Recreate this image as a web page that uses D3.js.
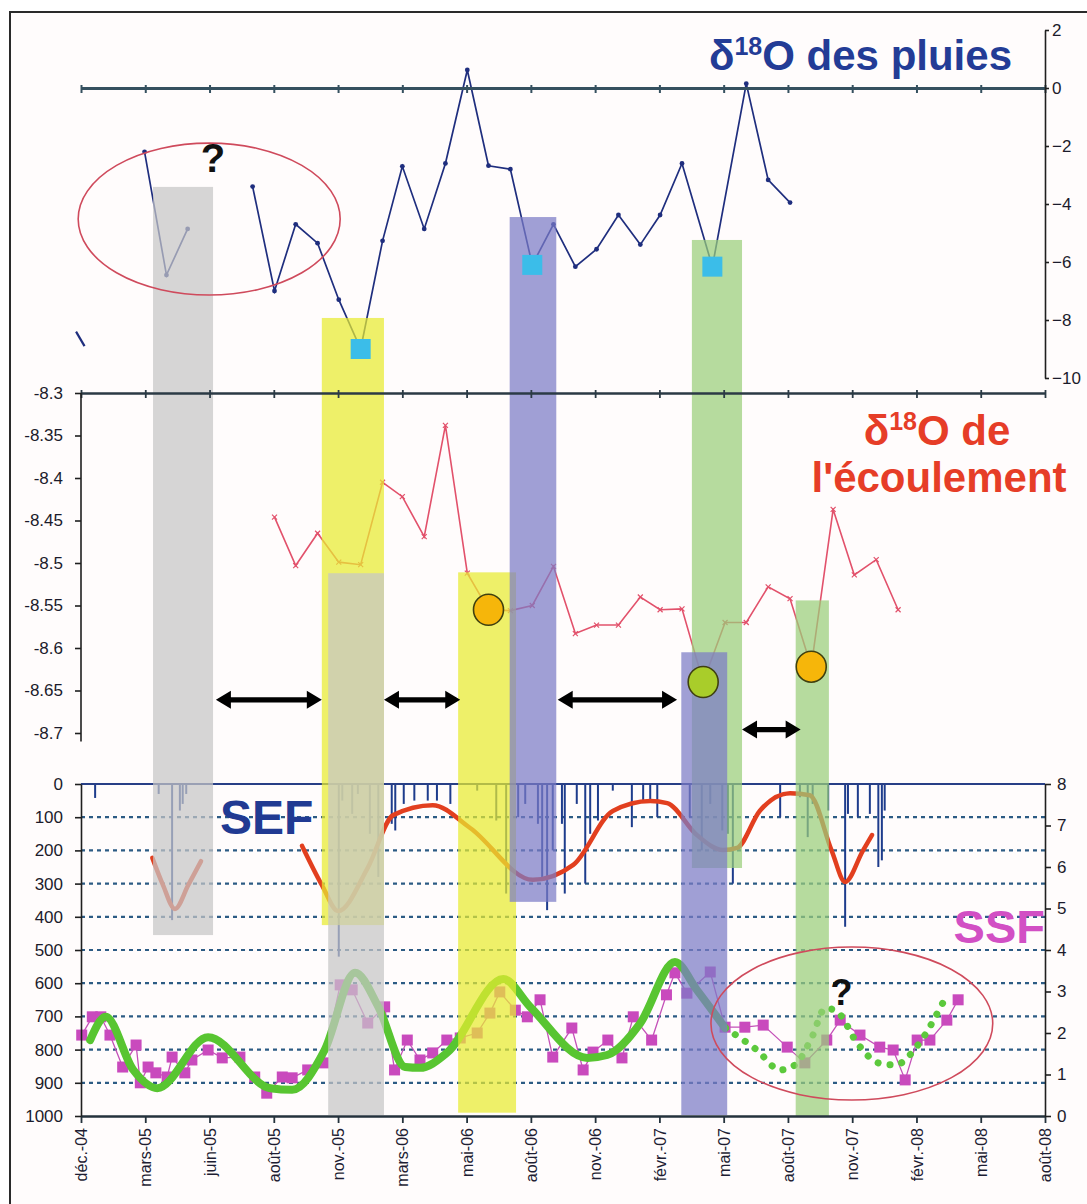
<!DOCTYPE html>
<html><head><meta charset="utf-8">
<script src="https://cdn.jsdelivr.net/npm/d3@7"></script>
<style>
body{margin:0;background:#fff}
svg{display:block}
text{font-family:"Liberation Sans",Arial,Helvetica,sans-serif}
</style>
</head><body>
<svg id="c" width="1087" height="1204"></svg>
<script>
// ---------------- DATA ----------------
const seriesStart = "2004-12-01";
const xTickDates = ["2004-12-01","2005-03-02","2005-06-01","2005-08-31","2005-11-30","2006-03-01","2006-05-31","2006-08-30","2006-11-29","2007-02-28","2007-05-30","2007-08-29","2007-11-28","2008-02-27","2008-05-28","2008-08-27"];
const xTickLabels = ["déc.-04","mars-05","juin-05","août-05","nov.-05","mars-06","mai-06","août-06","nov.-06","févr.-07","mai-07","août-07","nov.-07","févr.-08","mai-08","août-08"];

const rainTicks = [2,0,-2,-4,-6,-8,-10];
const flowTicks = [-8.3,-8.35,-8.4,-8.45,-8.5,-8.55,-8.6,-8.65,-8.7];
const flowTickLabels = ["-8.3","-8.35","-8.4","-8.45","-8.5","-8.55","-8.6","-8.65","-8.7"];
const mmTicks = [0,100,200,300,400,500,600,700,800,900,1000];
const rightTicks = [0,1,2,3,4,5,6,7,8];

// δ18O des pluies (monthly)
const rainDates = ["2005-03-01","2005-04-01","2005-05-01","2005-06-01","2005-07-01","2005-08-01","2005-09-01","2005-10-01","2005-11-01","2005-12-01","2006-01-01","2006-02-01","2006-03-01","2006-04-01","2006-05-01","2006-06-01","2006-07-01","2006-08-01","2006-09-01","2006-10-01","2006-11-01","2006-12-01","2007-01-01","2007-02-01","2007-03-01","2007-04-01","2007-05-14","2007-07-01","2007-08-01","2007-09-01"];
const rainValues = [-2.2,-6.45,-4.86,null,null,-3.4,-7.0,-4.7,-5.35,-7.3,-9.0,-5.27,-2.7,-4.86,-2.6,0.62,-2.68,-2.8,-6.1,-4.7,-6.16,-5.56,-4.38,-5.4,-4.38,-2.6,-6.16,0.15,-3.17,-3.95];
const rainStubDates = ["2004-11-24","2004-12-06"];
const rainStubValues = [-8.4,-8.9];
const rainHighlightDates = ["2006-01-01","2006-09-01","2007-05-14"];

// δ18O de l'écoulement (monthly)
const flowDates = ["2005-09-01","2005-10-01","2005-11-01","2005-12-01","2006-01-01","2006-02-01","2006-03-01","2006-04-01","2006-05-01","2006-06-01","2006-07-01","2006-08-01","2006-09-01","2006-10-01","2006-11-01","2006-12-01","2007-01-01","2007-02-01","2007-03-01","2007-04-01","2007-05-01","2007-06-01","2007-07-01","2007-08-01","2007-09-01","2007-10-01","2007-11-01","2007-12-01","2008-01-01","2008-02-01"];
const flowValues = [-8.446,-8.503,-8.465,-8.499,-8.502,-8.405,-8.422,-8.469,-8.338,-8.512,-8.555,-8.556,-8.55,-8.504,-8.583,-8.573,-8.573,-8.54,-8.555,-8.554,-8.64,-8.57,-8.57,-8.528,-8.542,-8.622,-8.437,-8.514,-8.496,-8.555];
const flowHighlightDates = ["2006-07-01","2007-05-01","2007-10-01"];
const flowHighlightKind = ["orange","green","orange"];

// daily rainfall bars (mm, days since seriesStart)
const barDays = [20,110,129,140,144,149,365,370,384,392,409,421,440,445,457,472,491,504,523,561,588,602,619,629,647,653,660,668,681,685,702,714,721,732,753,780,796,806,816,862,879,891,908,916,923,990,1018,1029,1036,1058,1082,1086,1100,1117,1129,1134,1138];
const barMm =   [42,30,410,80,60,30,520,50,90,30,150,280,120,140,60,50,50,50,60,20,110,330,100,60,120,280,380,200,120,330,60,300,150,110,20,130,50,50,100,100,200,60,140,150,300,100,40,160,60,80,430,90,100,90,250,230,80];

// SEF smoothed curve (right axis units, days since seriesStart)
const sef1Days = [101,116,133,152,170];
const sef1Values = [6.22,5.57,4.99,5.57,6.14];
const sef2Days = [313,341,364,406,442,498,551,640,697,753,806,830,872,909,929,961,1004,1032,1063,1082,1107,1120];
const sef2Values = [6.51,5.57,4.94,5.98,7.25,7.49,6.94,5.69,6.05,7.35,7.59,7.54,6.77,6.41,6.46,7.35,7.78,7.73,6.39,5.64,6.39,6.77];

// SSF smoothed curve (solid then dotted)
const ssfFitDays = [13,35,74,108,180,268,299,345,388,421,459,480,518,598,636,717,745,792,841,872,912];
const ssfFitValues = [1.83,2.39,1.11,0.67,1.90,0.67,0.63,1.59,3.45,2.63,1.18,1.16,1.52,3.30,2.63,1.40,1.47,2.24,3.71,3.04,2.12];
const ssfDotDays = [912,957,990,1011,1035,1054,1071,1099,1129,1153,1185,1221];
const ssfDotValues = [2.12,1.59,1.11,1.23,1.90,2.60,2.51,1.76,1.28,1.23,1.71,2.75];

// SSF measured points
const ssfDays = [1,16,28,41,59,78,84,95,106,122,129,147,157,180,200,225,246,263,285,299,321,343,367,384,406,430,444,462,480,498,518,537,561,579,593,615,632,650,668,695,711,725,746,766,782,808,829,841,858,891,912,940,966,1000,1025,1056,1075,1103,1131,1150,1167,1184,1202,1226,1242];
const ssfValues = [1.95,2.39,2.39,1.95,1.18,1.71,0.80,1.18,1.04,0.94,1.42,1.04,1.35,1.59,1.40,1.42,0.94,0.55,0.94,0.92,1.11,1.28,3.16,3.04,2.24,2.63,1.11,1.83,1.35,1.52,1.83,1.88,2.00,2.48,2.99,2.55,2.39,2.80,1.42,2.12,1.11,1.54,1.83,1.40,2.39,1.83,2.92,3.45,2.96,3.47,2.14,2.14,2.19,1.66,1.28,1.83,2.31,1.95,1.66,1.59,0.87,1.83,1.83,2.31,2.80];

// highlighted periods (date extents, top/bottom in panel units)
const bandStart = ["2005-03-13","2005-11-07","2005-11-16","2006-05-19","2006-07-31","2007-04-15","2007-03-31","2007-09-09"];
const bandEnd   = ["2005-06-06","2006-02-03","2006-02-03","2006-08-09","2006-10-05","2007-06-25","2007-06-04","2007-10-26"];
const bandTopScale = ["rain","rain","flow","flow","rain","rain","flow","flow"];
const bandTopValue = [-3.41,-7.93,-8.512,-8.511,-4.45,-5.24,-8.605,-8.544];
const bandBottomMm = [455,425,997,990,355,253,997,1000];
const bandKind = ["gray","yellow","gray","yellow","purple","green","purple","green"];

// double arrows (dates, flow units)
const arrowStart = ["2005-06-10","2006-02-03","2006-10-07","2007-06-25"];
const arrowEnd   = ["2005-11-07","2006-05-22","2007-03-25","2007-09-16"];
const arrowLevel = [-8.661,-8.661,-8.661,-8.696];

// ---------------- SETUP ----------------
const parse = d3.utcParse("%Y-%m-%d");
const t0 = parse(seriesStart);
const dayToDate = d => d3.utcDay.offset(t0, d);

const svg = d3.select("#c");
const W = 1087, H = 1204;

const x = d3.scaleUtc().domain([parse(xTickDates[0]), parse(xTickDates[xTickDates.length-1])]).range([81, 1045]);
const yRain = d3.scaleLinear().domain([-10, 2]).range([378, 30]);
const yFlow = d3.scaleLinear().domain([-8.7, -8.3]).range([733, 393]);
const yMm = d3.scaleLinear().domain([0, 1000]).range([784, 1116]);
const yR = d3.scaleLinear().domain([0, 8]).range([1116, 784]);
const scaleByName = {rain: yRain, flow: yFlow, mm: yMm};

const bandFill = {gray:"#c6c6c6", yellow:"#e8eb30", purple:"#7c7cc6", green:"#9acf7a"};

// background frame
svg.append("rect").attr("x",0).attr("y",0).attr("width",W).attr("height",H).attr("fill","#fff");
svg.append("rect").attr("x",10).attr("y",12).attr("width",W+20).attr("height",H+20)
  .attr("fill","#fffcfc").attr("stroke","#2a2a2a").attr("stroke-width",2);

const tickDateObjs = xTickDates.map(parse);

// ---------- bottom panel grid ----------
const grid = svg.append("g");
grid.selectAll("line").data(mmTicks.filter(v => v > 0 && v < 1000)).join("line")
  .attr("x1", x.range()[0]).attr("x2", x.range()[1])
  .attr("y1", d => yMm(d)).attr("y2", d => yMm(d))
  .attr("stroke","#2c5b84").attr("stroke-width",2.2).attr("stroke-dasharray","4,4");

// ---------- rain bars ----------
const bars = barDays.map((d,i) => ({t: dayToDate(d), v: barMm[i]}));
svg.append("g").selectAll("line").data(bars).join("line")
  .attr("x1", d => x(d.t)).attr("x2", d => x(d.t))
  .attr("y1", yMm(0)).attr("y2", d => yMm(d.v))
  .attr("stroke","#1e3c8c").attr("stroke-width",2);

// top line of bottom panel
svg.append("line").attr("x1",81).attr("x2",1045).attr("y1",yMm(0)).attr("y2",yMm(0))
  .attr("stroke","#283f86").attr("stroke-width",2.2);

// ---------- SEF curve ----------
const lineR = d3.line().x(d => x(d.t)).y(d => yR(d.v)).curve(d3.curveMonotoneX);
const sef1 = sef1Days.map((d,i) => ({t: dayToDate(d), v: sef1Values[i]}));
const sef2 = sef2Days.map((d,i) => ({t: dayToDate(d), v: sef2Values[i]}));
[sef1, sef2].forEach(s => svg.append("path").attr("d", lineR(s))
  .attr("fill","none").attr("stroke","#e23f1f").attr("stroke-width",4.5).attr("stroke-linecap","round"));

// ---------- SSF measured ----------
const ssf = ssfDays.map((d,i) => ({t: dayToDate(d), v: ssfValues[i]}));
svg.append("path").attr("d", d3.line().x(d => x(d.t)).y(d => yR(d.v))(ssf))
  .attr("fill","none").attr("stroke","#c451b8").attr("stroke-width",1.3);
svg.append("g").selectAll("rect").data(ssf).join("rect")
  .attr("x", d => x(d.t) - 5.5).attr("y", d => yR(d.v) - 5.5)
  .attr("width",11).attr("height",11).attr("fill","#c94abd");

// ---------- SSF fitted ----------
const ssfFit = ssfFitDays.map((d,i) => ({t: dayToDate(d), v: ssfFitValues[i]}));
const ssfDot = ssfDotDays.map((d,i) => ({t: dayToDate(d), v: ssfDotValues[i]}));
svg.append("path").attr("d", lineR(ssfFit)).attr("fill","none")
  .attr("stroke","#58c531").attr("stroke-width",8).attr("stroke-linecap","round");
svg.append("path").attr("d", lineR(ssfDot)).attr("fill","none")
  .attr("stroke","#5cc93c").attr("stroke-width",7).attr("stroke-linecap","round")
  .attr("stroke-dasharray","0.1,12");

// ---------- rain isotope line ----------
const rain = rainDates.map((d,i) => ({t: parse(d), v: rainValues[i]}));
const lineRain = d3.line().defined(d => d.v != null).x(d => x(d.t)).y(d => yRain(d.v));
svg.append("path").attr("d", lineRain(rain)).attr("fill","none")
  .attr("stroke","#1f2e7e").attr("stroke-width",1.7);
svg.append("g").selectAll("circle").data(rain.filter(d => d.v != null)).join("circle")
  .attr("cx", d => x(d.t)).attr("cy", d => yRain(d.v)).attr("r",2.4).attr("fill","#1f2e7e");
const stub = rainStubDates.map((d,i) => ({t: parse(d), v: rainStubValues[i]}));
svg.append("path").attr("d", lineRain(stub)).attr("stroke","#1f2e7e").attr("stroke-width",2.2).attr("fill","none");

// ---------- flow isotope line ----------
const flow = flowDates.map((d,i) => ({t: parse(d), v: flowValues[i]}));
svg.append("path").attr("d", d3.line().x(d => x(d.t)).y(d => yFlow(d.v))(flow))
  .attr("fill","none").attr("stroke","#e2516b").attr("stroke-width",1.6);
svg.append("g").selectAll("path").data(flow).join("path")
  .attr("d", d => `M${x(d.t)-2.5},${yFlow(d.v)-2.5}L${x(d.t)+2.5},${yFlow(d.v)+2.5}M${x(d.t)-2.5},${yFlow(d.v)+2.5}L${x(d.t)+2.5},${yFlow(d.v)-2.5}`)
  .attr("stroke","#e2516b").attr("stroke-width",1.2);

// ---------- bands (translucent overlays) ----------
const bands = bandStart.map((s,i) => ({
  x0: parse(s), x1: parse(bandEnd[i]),
  y0: scaleByName[bandTopScale[i]](bandTopValue[i]), y1: yMm(bandBottomMm[i]), kind: bandKind[i]
}));
svg.append("g").selectAll("rect").data(bands).join("rect")
  .attr("x", d => x(d.x0)).attr("width", d => x(d.x1) - x(d.x0))
  .attr("y", d => d.y0).attr("height", d => d.y1 - d.y0)
  .attr("fill", d => bandFill[d.kind]).attr("opacity", 0.72);

// ---------- axes ----------
const gZero = svg.append("g").attr("transform",`translate(0,${yRain(0)})`)
  .call(d3.axisBottom(x).tickValues(tickDateObjs).tickFormat("").tickSizeInner(5).tickSizeOuter(0));
gZero.select(".domain").attr("stroke","#35505f").attr("stroke-width",3);
gZero.selectAll(".tick line").attr("stroke","#35505f").attr("stroke-width",2).attr("y1",-3);

const gMid = svg.append("g").attr("transform",`translate(0,${yFlow(-8.3)})`)
  .call(d3.axisBottom(x).tickValues(tickDateObjs).tickFormat("").tickSizeInner(5).tickSizeOuter(0));
gMid.select(".domain").attr("stroke","#2b3a45").attr("stroke-width",2.6);
gMid.selectAll(".tick line").attr("stroke","#2b3a45").attr("stroke-width",1.8).attr("y1",-3);

const gX = svg.append("g").attr("transform",`translate(0,${yMm(1000)})`)
  .call(d3.axisBottom(x).tickValues(tickDateObjs).tickFormat((d,i) => xTickLabels[i]).tickSizeInner(7).tickSizeOuter(0));
gX.select(".domain").attr("stroke","#24323c").attr("stroke-width",2.6);
gX.selectAll(".tick line").attr("stroke","#24323c").attr("stroke-width",1.8);
gX.selectAll(".tick text")
  .attr("transform","translate(0,12) rotate(-90)")
  .attr("text-anchor","end").attr("x",0).attr("y",0).attr("dy","0.35em")
  .attr("font-size",16).attr("fill","#1d1d33");

function styleY(g, size){
  g.select(".domain").attr("stroke","#1f1f1f").attr("stroke-width",1.6);
  g.selectAll(".tick line").attr("stroke","#1f1f1f").attr("stroke-width",1.6);
  g.selectAll(".tick text").attr("font-size",size).attr("fill","#1b1b2b");
}
const gRain = svg.append("g").attr("transform","translate(1045,0)")
  .call(d3.axisRight(yRain).tickValues(rainTicks).tickFormat(d3.format("d")).tickSizeInner(4).tickSizeOuter(0).tickPadding(3));
styleY(gRain, 17);
const gFlow = svg.append("g").attr("transform","translate(81,0)")
  .call(d3.axisLeft(yFlow).tickValues(flowTicks).tickFormat((d,i) => flowTickLabels[i]).tickSizeInner(6).tickSizeOuter(0).tickPadding(12));
gFlow.select(".domain").attr("d", `M0,${yFlow(-8.3)}V${yFlow(-8.71)}`);
styleY(gFlow, 17);
const gMm = svg.append("g").attr("transform","translate(81,0)")
  .call(d3.axisLeft(yMm).tickValues(mmTicks).tickFormat(d3.format("d")).tickSizeInner(6).tickSizeOuter(0).tickPadding(12));
styleY(gMm, 17);
const gR = svg.append("g").attr("transform","translate(1045,0)")
  .call(d3.axisRight(yR).tickValues(rightTicks).tickFormat(d3.format("d")).tickSizeInner(6).tickSizeOuter(0).tickPadding(6));
styleY(gR, 17);

// ---------- highlighted samples ----------
svg.append("g").selectAll("rect").data(rainHighlightDates.map(parse)).join("rect")
  .attr("x", d => x(d) - 10).attr("y", d => yRain(rain.find(r => +r.t === +d).v) - 10)
  .attr("width",20).attr("height",20).attr("fill","#3bbde9");

const circFill = {orange:"#f6b60a", green:"#a9cd2a"};
svg.append("g").selectAll("ellipse").data(flowHighlightDates.map((d,i) => ({t: parse(d), k: flowHighlightKind[i]}))).join("ellipse")
  .attr("cx", d => x(d.t)).attr("cy", d => yFlow(flow.find(f => +f.t === +d.t).v))
  .attr("rx",15).attr("ry",15.5).attr("fill", d => circFill[d.k])
  .attr("stroke","#3f4010").attr("stroke-width",1.6);

// ---------- double arrows ----------
const arrows = arrowStart.map((s,i) => ({a: x(parse(s)), b: x(parse(arrowEnd[i])), y: yFlow(arrowLevel[i])}));
const ga = svg.append("g").attr("fill","#000");
arrows.forEach(d => {
  const hl = 15, hw = 9, sw = 2.6;
  ga.append("path").attr("d",
    `M${d.a},${d.y} L${d.a+hl},${d.y-hw} L${d.a+hl},${d.y-sw} L${d.b-hl},${d.y-sw} L${d.b-hl},${d.y-hw} L${d.b},${d.y} L${d.b-hl},${d.y+hw} L${d.b-hl},${d.y+sw} L${d.a+hl},${d.y+sw} L${d.a+hl},${d.y+hw} Z`);
});

// ---------- ellipses and question marks ----------
const ellipses = [
  {x0: "2004-11-27", x1: "2005-12-03", cy: yRain((-1.9 + -7.14)/2), ry: (yRain(-7.14) - yRain(-1.9))/2},
  {x0: "2007-05-12", x1: "2008-06-14", cy: yMm((491 + 952)/2), ry: (yMm(952) - yMm(491))/2}
];
svg.append("g").selectAll("ellipse").data(ellipses).join("ellipse")
  .attr("cx", d => (x(parse(d.x0)) + x(parse(d.x1)))/2)
  .attr("rx", d => (x(parse(d.x1)) - x(parse(d.x0)))/2)
  .attr("cy", d => d.cy).attr("ry", d => d.ry)
  .attr("fill","none").attr("stroke","#cf4a5c").attr("stroke-width",1.6);

svg.append("text").attr("x", x(parse("2005-06-06"))).attr("y", yRain(-2.9))
  .attr("text-anchor","middle").attr("font-size",40).attr("font-weight","bold").attr("fill","#111").text("?");
svg.append("text").attr("x", x(parse("2007-11-13"))).attr("y", yMm(666))
  .attr("text-anchor","middle").attr("font-size",36).attr("font-weight","bold").attr("fill","#111").text("?");

// ---------- titles ----------
const t1 = svg.append("text").attr("x",1012).attr("y",70).attr("text-anchor","end")
  .attr("font-size",42).attr("font-weight","bold").attr("fill","#233c96");
t1.append("tspan").text("δ");
t1.append("tspan").attr("font-size",25).attr("dy",-15).text("18");
t1.append("tspan").attr("dy",15).text("O des pluies");

const t2 = svg.append("text").attr("x",937).attr("y",445).attr("text-anchor","middle")
  .attr("font-size",42).attr("font-weight","bold").attr("fill","#e63d27");
t2.append("tspan").text("δ");
t2.append("tspan").attr("font-size",25).attr("dy",-15).text("18");
t2.append("tspan").attr("dy",15).text("O de");
svg.append("text").attr("x",939).attr("y",492).attr("text-anchor","middle")
  .attr("font-size",42).attr("font-weight","bold").attr("fill","#e63d27").text("l'écoulement");

svg.append("text").attr("x",220).attr("y",834).attr("font-size",48).attr("font-weight","bold")
  .attr("fill","#213a92").text("SEF");
svg.append("text").attr("x",1045).attr("y",943).attr("text-anchor","end").attr("font-size",47).attr("font-weight","bold")
  .attr("fill","#d24fc4").text("SSF");
</script>
</body></html>
